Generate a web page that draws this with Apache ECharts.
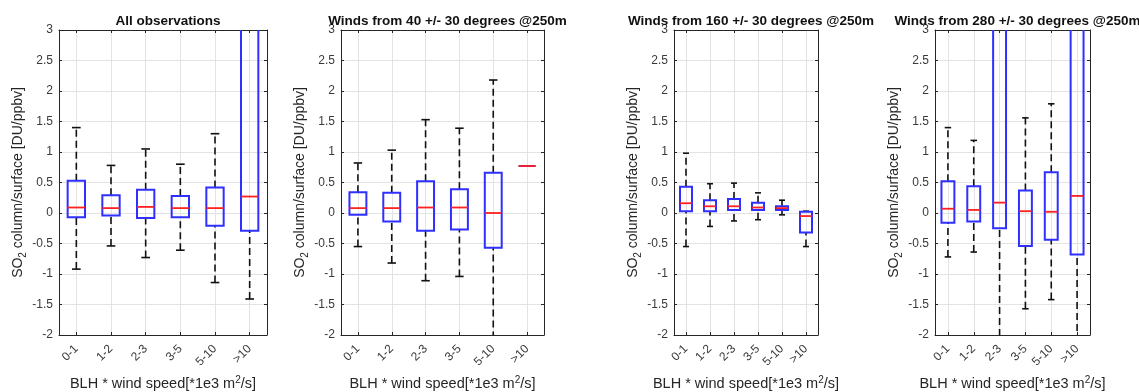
<!DOCTYPE html>
<html>
<head>
<meta charset="utf-8">
<script src="https://cdn.jsdelivr.net/npm/echarts@6/dist/echarts.min.js"></script>
<style>html,body{margin:0;padding:0;background:#fff}#c{width:1139px;height:392px}</style>
</head>
<body>
<div id="c"></div>
<script>
// ---- data ----
const categories = ['0-1', '1-2', '2-3', '3-5', '5-10', '>10'];
const panelTitles = [
  'All observations',
  'Winds from 40 +/- 30 degrees @250m',
  'Winds from 160 +/- 30 degrees @250m',
  'Winds from 280 +/- 30 degrees @250m'
];
const yTickMin = -2, yTickMax = 3, yTickStep = 0.5;
// each row: [lower whisker, q1, median, q3, upper whisker]
const allObs = [
  [-0.92, -0.07, 0.09, 0.53, 1.40],
  [-0.54, -0.04, 0.08, 0.29, 0.78],
  [-0.73, -0.08, 0.10, 0.38, 1.05],
  [-0.61, -0.07, 0.08, 0.28, 0.80],
  [-1.14, -0.21, 0.08, 0.42, 1.30],
  [-1.41, -0.29, 0.27, 4.00, 9.00]
];
const wind40 = [
  [-0.55, -0.03, 0.08, 0.34, 0.82],
  [-0.82, -0.14, 0.08, 0.33, 1.03],
  [-1.11, -0.29, 0.09, 0.52, 1.53],
  [-1.04, -0.27, 0.09, 0.39, 1.39],
  [-3.50, -0.57, 0.00, 0.66, 2.18],
  [0.77, 0.77, 0.77, 0.77, 0.77]
];
const wind160 = [
  [-0.55, 0.03, 0.16, 0.43, 0.98],
  [-0.22, 0.03, 0.11, 0.21, 0.48],
  [-0.13, 0.05, 0.11, 0.23, 0.49],
  [-0.11, 0.05, 0.09, 0.17, 0.33],
  [-0.03, 0.05, 0.08, 0.11, 0.21],
  [-0.55, -0.32, -0.05, 0.02, 0.03]
];
const wind280 = [
  [-0.72, -0.16, 0.07, 0.52, 1.40],
  [-0.64, -0.14, 0.05, 0.44, 1.19],
  [-4.00, -0.25, 0.17, 4.50, 10.0],
  [-1.57, -0.54, 0.03, 0.37, 1.56],
  [-1.42, -0.44, 0.02, 0.67, 1.79],
  [-5.00, -0.68, 0.28, 5.00, 12.0]
];
const panels = [allObs, wind40, wind160, wind280];

// ---- layout ----
const grids = [
  {left: 59, width: 208},
  {left: 341, width: 203},
  {left: 674, width: 144},
  {left: 935, width: 155}
];
const TOP = 30, HEIGHT = 305;
const AX = '#262626', LBL = '#3a3a3a', GRID = '#e3e3e3';
const FONT = '"Liberation Sans", Arial, sans-serif';

function renderBox(params, api) {
  const x = api.value(0);
  const lo = api.value(1), q1 = api.value(2), med = api.value(3), q3 = api.value(4), hi = api.value(5);
  const w = api.size([1, 0])[0];
  const bw = w * 0.5, cw = bw * 0.5;
  const cx = api.coord([x, med])[0];
  const y = v => api.coord([x, v])[1];
  const dash = {stroke: '#111', lineWidth: 1.6, lineDash: [7, 4]};
  const solid = {stroke: '#111', lineWidth: 1.6};
  return {
    type: 'group',
    children: [
      {type: 'line', shape: {x1: cx, y1: y(q3), x2: cx, y2: y(hi)}, style: dash},
      {type: 'line', shape: {x1: cx, y1: y(lo), x2: cx, y2: y(q1)}, style: dash},
      {type: 'line', shape: {x1: cx - cw / 2, y1: y(hi), x2: cx + cw / 2, y2: y(hi)}, style: solid},
      {type: 'line', shape: {x1: cx - cw / 2, y1: y(lo), x2: cx + cw / 2, y2: y(lo)}, style: solid},
      {type: 'rect', shape: {x: cx - bw / 2, y: y(q3), width: bw, height: y(q1) - y(q3)},
        style: {fill: 'none', stroke: '#2f2fff', lineWidth: 2}},
      {type: 'line', shape: {x1: cx - bw / 2, y1: y(med), x2: cx + bw / 2, y2: y(med)},
        style: {stroke: '#ff2020', lineWidth: 1.8}}
    ]
  };
}

const option = {
  animation: false,
  backgroundColor: '#fff',
  textStyle: {fontFamily: FONT},
  title: grids.map((g, i) => ({
    text: panelTitles[i],
    left: g.left + g.width / 2,
    top: 9,
    textAlign: 'center',
    textStyle: {fontSize: 13.5, fontWeight: 'bold', color: '#111', fontFamily: FONT}
  })),
  grid: grids.map(g => ({left: g.left, top: TOP, width: g.width, height: HEIGHT,
    containLabel: false, outerBoundsMode: 'none'})),
  xAxis: [
    ...grids.map((g, i) => ({
      type: 'category', gridIndex: i, data: categories, boundaryGap: true, position: 'bottom',
      axisLine: {show: true, onZero: false, lineStyle: {color: AX, width: 1}},
      axisTick: {show: true, inside: true, alignWithLabel: true, length: 3, lineStyle: {color: AX}},
      axisLabel: {rotate: 45, fontSize: 12, color: LBL, margin: 12, fontFamily: FONT},
      splitLine: {show: false},
      name: '{t|BLH * wind speed[*1e3 m}{p|2}{t|/s]}',
      nameLocation: 'middle', nameGap: 38,
      nameTextStyle: {rich: {
        t: {fontSize: 14.5, color: '#262626', lineHeight: 17, fontFamily: FONT},
        p: {fontSize: 10, color: '#262626', lineHeight: 10, verticalAlign: 'top', fontFamily: FONT}
      }}
    })),
    ...grids.map((g, i) => ({
      type: 'category', gridIndex: i, data: categories, boundaryGap: true, position: 'top',
      axisLine: {show: true, onZero: false, lineStyle: {color: AX, width: 1}},
      axisTick: {show: true, inside: true, alignWithLabel: true, length: 3, lineStyle: {color: AX}},
      axisLabel: {show: false}, splitLine: {show: false}
    }))
  ],
  yAxis: [
    ...grids.map((g, i) => ({
      type: 'value', gridIndex: i, min: yTickMin, max: yTickMax, interval: yTickStep, position: 'left',
      axisLine: {show: true, onZero: false, lineStyle: {color: AX, width: 1}},
      axisTick: {show: true, inside: true, length: 3, lineStyle: {color: AX}},
      axisLabel: {fontSize: 12, color: LBL, margin: 6, fontFamily: FONT},
      splitLine: {show: true, lineStyle: {color: GRID}},
      name: '{t|SO}{s|2}{t| column/surface [DU/ppbv]}',
      nameLocation: 'middle', nameGap: 31, nameRotate: 90,
      nameTextStyle: {rich: {
        t: {fontSize: 14, color: '#262626', lineHeight: 19, fontFamily: FONT},
        s: {fontSize: 10, color: '#262626', lineHeight: 10, verticalAlign: 'bottom', fontFamily: FONT}
      }}
    })),
    ...grids.map((g, i) => ({
      type: 'value', gridIndex: i, min: yTickMin, max: yTickMax, interval: yTickStep, position: 'right',
      axisLine: {show: true, onZero: false, lineStyle: {color: AX, width: 1}},
      axisTick: {show: true, inside: true, length: 3, lineStyle: {color: AX}},
      axisLabel: {show: false}, splitLine: {show: false}
    }))
  ],
  series: [
    // vertical grid lines at each category (MATLAB-style x grid)
    ...grids.map((g, i) => ({
      type: 'line', xAxisIndex: i, yAxisIndex: i, data: [], z: 0, silent: true,
      markLine: {
        silent: true, symbol: 'none', animation: false, z: 0,
        label: {show: false},
        lineStyle: {color: GRID, type: 'solid', width: 1},
        emphasis: {disabled: true},
        data: categories.map(c => ({xAxis: c}))
      }
    })),
    ...panels.map((rows, i) => ({
      type: 'custom',
      xAxisIndex: i, yAxisIndex: i,
      clip: true, z: 3,
      renderItem: renderBox,
      encode: {x: 0, y: [1, 2, 3, 4, 5]},
      data: rows.map((r, k) => [k, ...r])
    }))
  ]
};

const chart = echarts.init(document.getElementById('c'), null, {renderer: 'canvas'});
chart.setOption(option);
</script>
</body>
</html>
